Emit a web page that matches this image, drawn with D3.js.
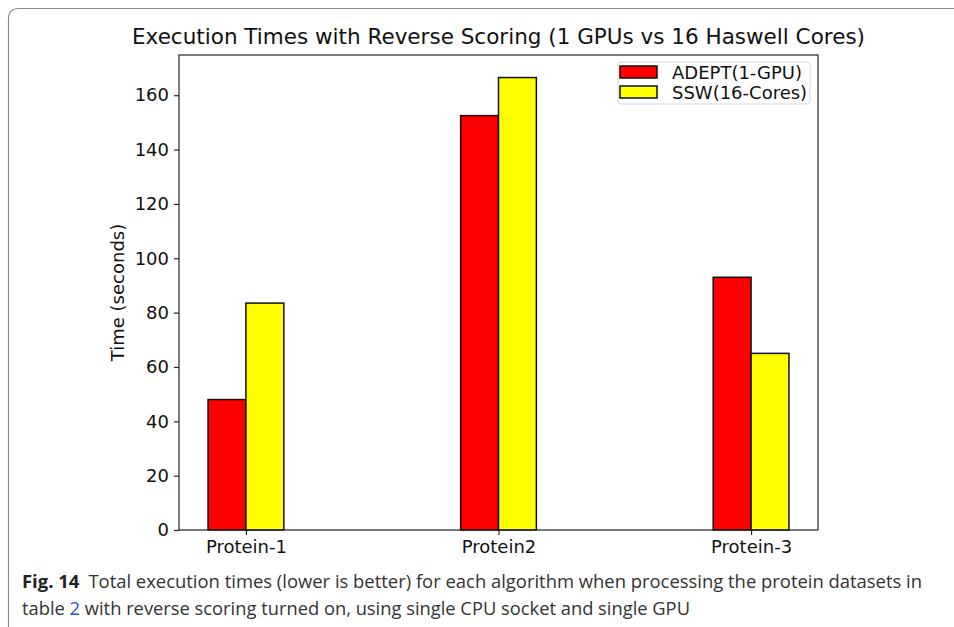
<!DOCTYPE html>
<html>
<head>
<meta charset="utf-8">
<script src="https://cdn.jsdelivr.net/npm/d3@7"></script>
<style>
  body { margin: 0; background: #fff; }
</style>
</head>
<body>
<div id="chart"></div>
<script>
// Data
const proteins = ["Protein-1", "Protein2", "Protein-3"];
const series = ["ADEPT(1-GPU)", "SSW(16-Cores)"];
const adeptTimes = [48, 152.5, 93];
const sswTimes = [83.5, 166.5, 65];
const yTicks = [0, 20, 40, 60, 80, 100, 120, 140, 160];
const colors = ["#ff0000", "#ffff00"];

const width = 954;
const height = 627;
const svg = d3.select("#chart")
  .append("svg")
  .attr("width", width)
  .attr("height", height)
  .style("font-family", "DejaVu Sans");

// card frame
svg.append("path")
  .attr("d", "M8.5,640 L8.5,19 Q8.5,8.5 19,8.5 L960,8.5")
  .attr("fill", "none")
  .attr("stroke", "#8a8a8a")
  .attr("stroke-width", 1.2);

const plotL = 179, plotR = 818, plotT = 55, plotB = 530;
const barW = 0.15;

// Scales
const x = d3.scaleLinear()
  .domain([-0.265, 2.265])
  .range([plotL, plotR]);
const y = d3.scaleLinear()
  .domain([0, 174.8])
  .range([plotB, plotT]);

// Bars
const vals = [adeptTimes, sswTimes];
vals.forEach((arr, s) => {
  svg.append("g")
    .selectAll("rect")
    .data(arr)
    .join("rect")
    .attr("x", (d, i) => x(i - barW + s * barW))
    .attr("y", d => y(d))
    .attr("width", x(barW) - x(0))
    .attr("height", d => y(0) - y(d))
    .attr("fill", colors[s])
    .attr("stroke", "#111")
    .attr("stroke-width", 1.5);
});

// Axes
const yAxis = svg.append("g")
  .attr("transform", `translate(${plotL},0)`)
  .call(d3.axisLeft(y).tickValues(yTicks).tickSize(5).tickPadding(5));
const xAxis = svg.append("g")
  .attr("transform", `translate(0,${plotB})`)
  .call(d3.axisBottom(x).tickValues([0, 1, 2]).tickFormat(i => proteins[i]).tickSize(5).tickPadding(5));
[yAxis, xAxis].forEach(g => {
  g.select(".domain").remove();
  g.selectAll("line").attr("stroke", "#222").attr("stroke-width", 1.2);
  g.selectAll("text")
    .style("font-size", "18px")
    .style("font-family", "DejaVu Sans")
    .attr("fill", "#111");
});

// Frame
svg.append("rect")
  .attr("x", plotL).attr("y", plotT)
  .attr("width", plotR - plotL).attr("height", plotB - plotT)
  .attr("fill", "none")
  .attr("stroke", "#222")
  .attr("stroke-width", 1.2);

// Title and label
svg.append("text")
  .attr("x", (plotL + plotR) / 2 + 0)
  .attr("y", 44)
  .attr("text-anchor", "middle")
  .style("font-size", "21.5px")
  .attr("fill", "#111")
  .text("Execution Times with Reverse Scoring (1 GPUs vs 16 Haswell Cores)");
svg.append("text")
  .attr("transform", "rotate(-90)")
  .attr("x", -(plotT + plotB) / 2)
  .attr("y", 124)
  .attr("text-anchor", "middle")
  .style("font-size", "18px")
  .attr("fill", "#111")
  .text("Time (seconds)");

// Legend
const legend = svg.append("g");
legend.append("rect")
  .attr("x", 618).attr("y", 62)
  .attr("width", 192).attr("height", 42)
  .attr("rx", 3)
  .attr("fill", "#fff")
  .attr("stroke", "#d6d6d6");
series.forEach((name, i) => {
  legend.append("rect")
    .attr("x", 620).attr("y", 66 + i * 20)
    .attr("width", 37).attr("height", 12)
    .attr("fill", colors[i])
    .attr("stroke", "#111")
    .attr("stroke-width", 1.5);
  legend.append("text")
    .attr("x", 672).attr("y", 79 + i * 20)
    .style("font-size", "18px")
    .attr("fill", "#111")
    .text(name);
});

// Caption
const cap = svg.append("g").style("font-family", "Open Sans").style("font-size", "18px").attr("fill", "#333");
const line1 = cap.append("text").attr("x", 22).attr("y", 588)
  .attr("textLength", 900).attr("lengthAdjust", "spacingAndGlyphs");
line1.append("tspan").attr("font-weight", "bold").attr("fill", "#222").text("Fig. 14");
line1.append("tspan").text("\u2002Total execution times (lower is better) for each algorithm when processing the protein datasets in");
const line2 = cap.append("text").attr("x", 22).attr("y", 615)
  .attr("textLength", 668).attr("lengthAdjust", "spacingAndGlyphs");
line2.append("tspan").text("table ");
line2.append("tspan").attr("fill", "#2b4fd8").text("2");
line2.append("tspan").text(" with reverse scoring turned on, using single CPU socket and single GPU");
</script>
</body>
</html>
